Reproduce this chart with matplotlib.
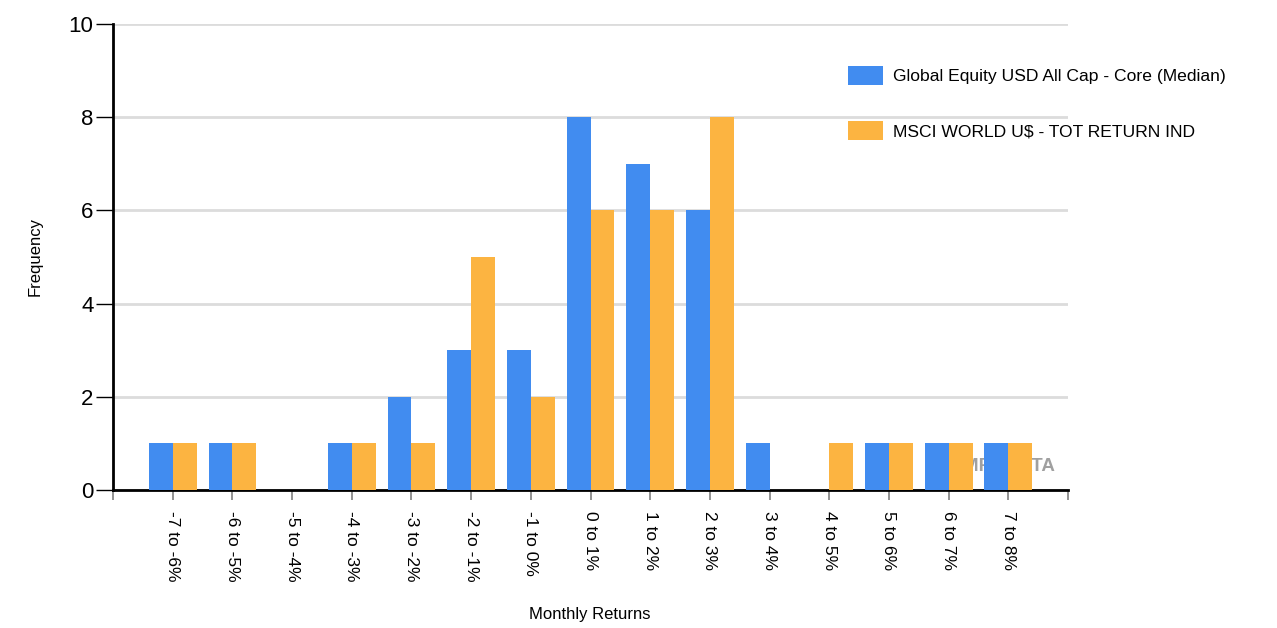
import numpy as np
import matplotlib.pyplot as plt

plt.rcParams["font.family"] = ["Liberation Sans", "DejaVu Sans"]

categories = ["-7 to -6%", "-6 to -5%", "-5 to -4%", "-4 to -3%", "-3 to -2%",
              "-2 to -1%", "-1 to 0%", "0 to 1%", "1 to 2%", "2 to 3%",
              "3 to 4%", "4 to 5%", "5 to 6%", "6 to 7%", "7 to 8%"]
fund = [1, 1, 0, 1, 2, 3, 3, 8, 7, 6, 1, 0, 1, 1, 1]
index = [1, 1, 0, 1, 1, 5, 2, 6, 6, 8, 0, 1, 1, 1, 1]
series_names = ["Global Equity USD All Cap - Core (Median)", "MSCI WORLD U$ - TOT RETURN IND"]

fig = plt.figure(figsize=(12.77, 6.28), dpi=100)
ax = fig.add_axes([113 / 1277, 1 - 490 / 628, 955 / 1277, 466 / 628])

x = np.arange(len(categories))
w = 0.4
b1 = ax.bar(x - w / 2, fund, w, color="#418CF0", zorder=3, label=series_names[0])
b2 = ax.bar(x + w / 2, index, w, color="#FCB441", zorder=3, label=series_names[1])

# watermark sits behind the bars
ax.text(14.78, 0.5, "CAMRADATA", fontsize=13.5, fontweight="bold", color="#a0a0a0",
        ha="right", va="center", zorder=2)

ax.set_xlim(-1, 15)
ax.set_ylim(0, 10)
ax.set_yticks(range(0, 11, 2))
ax.set_xticks(list(x) + [-1, 15])
ax.set_xticklabels(categories + ["", ""], rotation=270, fontsize=12.5)
ax.tick_params(axis="x", length=7, width=1.2, color="#808080", pad=8)
ax.tick_params(axis="y", length=12, width=1, color="black", labelsize=16, pad=2)

ax.grid(axis="y", color="#dcdcdc", linewidth=2, zorder=0)
for s in ["top", "right"]:
    ax.spines[s].set_visible(False)
ax.spines["left"].set_linewidth(2)
ax.spines["bottom"].set_linewidth(2)

fig.text(590 / 1277, 1 - 614 / 628, "Monthly Returns", fontsize=12, ha="center", va="center")
fig.text(35 / 1277, 1 - 257 / 628, "Frequency", fontsize=12, ha="center", va="center",
         rotation=90)

fig.legend(handles=[b1, b2], loc="upper left", bbox_to_anchor=(832 / 1277, 1 - 50 / 628),
           frameon=False, fontsize=12.6, handlelength=2.0, handleheight=1.3,
           labelspacing=2.05, handletextpad=0.6)

fig.savefig("out.png", dpi=100)
